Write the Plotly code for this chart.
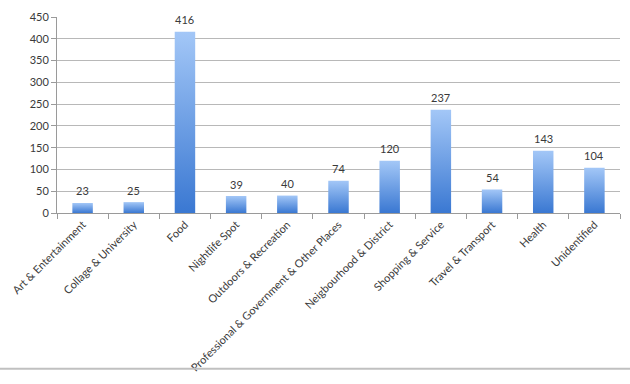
import plotly.graph_objects as go

categories = ["Art & Entertainment", "Collage & University", "Food", "Nightlife Spot",
              "Outdoors & Recreation", "Professional & Government & Other Places",
              "Neigbourhood & District", "Shopping & Service", "Travel & Transport",
              "Health", "Unidentified"]
values = [23, 25, 416, 39, 40, 74, 120, 237, 54, 143, 104]
y_ticks = [0, 50, 100, 150, 200, 250, 300, 350, 400, 450]

BAR_HALF = 0.2
FONT = "Lato, 'Open Sans', sans-serif"
TXT = "#3a3a3a"

fig = go.Figure()
for i, v in enumerate(values):
    fig.add_trace(go.Scatter(
        x=[i - BAR_HALF, i + BAR_HALF, i + BAR_HALF, i - BAR_HALF, i - BAR_HALF],
        y=[0, 0, v, v, 0],
        mode="lines", line=dict(width=0), fill="toself",
        fillgradient=dict(type="vertical",
                          colorscale=[[0, "#3a78d2"], [1, "#a3c7f7"]]),
        hoverinfo="skip", showlegend=False))

annotations = [dict(x=i, y=v, text=str(v), showarrow=False, yshift=12,
                    xref="x", yref="y",
                    font=dict(family=FONT, size=11, color=TXT))
               for i, v in enumerate(values)]

fig.update_layout(
    width=630, height=384,
    margin=dict(l=48, r=10, t=14, b=165),
    plot_bgcolor="white", paper_bgcolor="white",
    font=dict(family=FONT, size=11, color=TXT),
    annotations=annotations,
    xaxis=dict(range=[-0.5, len(values) - 0.5], tickmode="array",
               tickvals=list(range(len(values))), ticktext=categories,
               tickangle=-45, ticks="", showgrid=False, zeroline=False,
               showline=True, linecolor="#9a9a9a", linewidth=1,
               tickfont=dict(family=FONT, size=11, color=TXT),
               minor=dict(tickmode="linear", tick0=-0.5, dtick=1, ticks="outside",
                          ticklen=5, tickcolor="#9a9a9a", showgrid=False)),
    yaxis=dict(range=[0, 450], tickmode="array", tickvals=y_ticks,
               showgrid=True, gridcolor="#b8b8b8", gridwidth=1, zeroline=False,
               showline=True, linecolor="#9a9a9a", linewidth=1,
               ticks="outside", ticklen=5, tickcolor="#9a9a9a",
               tickfont=dict(family=FONT, size=11, color=TXT)),
    shapes=[dict(type="line", xref="paper", yref="paper",
                 x0=-0.2, x1=1.2, y0=-163/205, y1=-163/205,
                 line=dict(color="#c0c0c0", width=2))],
)

fig.write_html("out.html")
